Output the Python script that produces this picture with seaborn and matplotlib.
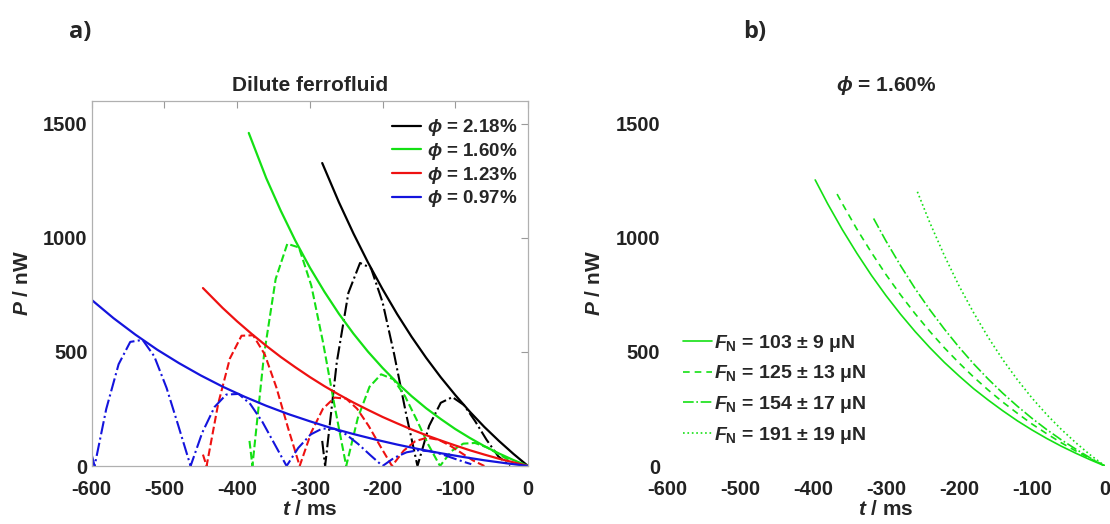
import matplotlib
matplotlib.use('Agg')
import matplotlib.pyplot as plt
import pandas as pd
import seaborn as sns

# %% Dados - painel a) fluido diluido
# envolventes (linhas cheias) e oscilacoes (tracejado)
t_env_k = [-283, -260, -240, -220, -200, -180, -160, -140, -120, -100, -80, -60, -40, -20, 0]
p_env_k = [1328, 1156, 1019, 892, 775, 666, 566, 474, 389, 311, 238, 171, 110, 53, 0]
t_osc_k = [-283, -279, -263, -247, -231, -216, -200, -184, -168, -152, -136, -120, -104, -88, -73, -57, -41, -25]
p_osc_k = [110, 0, 454, 759, 890, 868, 718, 489, 234, 0, 176, 277, 302, 267, 198, 115, 43, 0]

t_env_g = [-384, -360, -340, -320, -300, -280, -260, -240, -220, -200, -180, -160, -140, -120, -100, -80, -60, -40, -20, 0]
p_env_g = [1460, 1262, 1119, 988, 870, 764, 667, 580, 501, 430, 365, 306, 253, 206, 162, 123, 87, 55, 26, 0]
t_osc_g = [-383, -379, -363, -347, -331, -315, -298, -282, -266, -250, -234, -218, -202, -185, -169, -153, -137, -121, -105, -89, -73, -56, -40, -24]
p_osc_g = [110, 0, 488, 820, 974, 958, 791, 544, 264, 0, 211, 347, 402, 380, 305, 202, 93, 0, 66, 98, 101, 81, 51, 22]

t_env_r = [-447, -420, -400, -380, -360, -340, -320, -300, -280, -260, -240, -220, -200, -180, -160, -140, -120, -100, -80, -60, -40, -20, 0]
p_env_r = [780, 693, 634, 579, 527, 478, 433, 390, 350, 313, 278, 246, 215, 187, 160, 135, 112, 90, 69, 50, 32, 16, 0]
t_osc_r = [-447, -442, -426, -410, -394, -378, -362, -346, -330, -314, -298, -282, -266, -250, -235, -219, -203, -187, -171, -155, -139, -123, -108, -92, -76, -60]
p_osc_r = [50, 0, 274, 471, 571, 573, 489, 344, 167, 0, 148, 251, 300, 295, 251, 175, 86, 0, 67, 109, 124, 115, 91, 58, 25, 0]

t_env_b = [-600, -570, -540, -510, -480, -450, -420, -390, -360, -330, -300, -270, -240, -210, -180, -150, -120, -90, -60, -30, 0]
p_env_b = [728, 648, 576, 510, 451, 397, 348, 304, 264, 228, 196, 166, 140, 116, 94, 74, 56, 40, 25, 12, 0]
t_osc_b = [-600, -596, -580, -563, -547, -530, -514, -497, -481, -464, -448, -431, -415, -398, -382, -365, -349,
           -332, -316, -299, -283, -266, -250, -233, -217, -200, -184, -167, -151, -134, -118, -101, -85, -78]
p_osc_b = [50, 0, 250, 446, 544, 553, 481, 342, 178, 0, 146, 259, 313, 316, 272, 192, 99,
           0, 79, 138, 164, 163, 138, 95, 48, 0, 36, 60, 69, 64, 51, 32, 15, 8]

fracoes = ['2.18', '1.60', '1.23', '0.97']

# %% Dados - painel b) phi = 1.60%, varias forcas normais
t_fn103 = [-397, -380, -360, -340, -320, -300, -280, -260, -240, -220, -200, -180, -160, -140, -120, -100, -80, -60, -40, -20, 0]
p_fn103 = [1254, 1150, 1037, 933, 836, 747, 665, 589, 519, 454, 395, 339, 289, 242, 198, 158, 121, 87, 56, 27, 0]
t_fn125 = [-367, -360, -340, -320, -300, -280, -260, -240, -220, -200, -180, -160, -140, -120, -100, -80, -60, -40, -20, 0]
p_fn125 = [1192, 1151, 1039, 936, 839, 750, 667, 590, 518, 452, 390, 333, 280, 231, 184, 142, 102, 66, 32, 0]
t_fn154 = [-317, -300, -280, -260, -240, -220, -200, -180, -160, -140, -120, -100, -80, -60, -40, -20, 0]
p_fn154 = [1085, 986, 878, 777, 685, 600, 521, 448, 381, 319, 262, 209, 160, 115, 74, 35, 0]
t_fn191 = [-257, -240, -220, -200, -180, -160, -140, -120, -100, -80, -60, -40, -20, 0]
p_fn191 = [1202, 1067, 922, 790, 672, 564, 466, 378, 298, 226, 161, 102, 48, 0]

forcas = ['103 ± 9', '125 ± 13', '154 ± 17', '191 ± 19']

# %% Estilo
sns.set_style('white')
plt.rcParams['font.family'] = ['Liberation Sans', 'DejaVu Sans']
plt.rcParams['font.weight'] = 'bold'
plt.rcParams['axes.unicode_minus'] = False
plt.rcParams['mathtext.fontset'] = 'custom'
plt.rcParams['mathtext.it'] = 'Liberation Sans:italic:bold'
plt.rcParams['mathtext.rm'] = 'Liberation Sans:bold'
plt.rcParams['mathtext.bf'] = 'Liberation Sans:bold'

cores = {'k': '#000000', 'g': '#14e014', 'r': '#ee1111', 'b': '#1414dd'}
GRIS = '#9a9a9a'

fig = plt.figure(figsize=(11.1, 5.24), dpi=100)
ax1 = fig.add_axes([91.7 / 1110, 58 / 524, 436.3 / 1110, 365 / 524])
ax2 = fig.add_axes([667 / 1110, 58 / 524, 438 / 1110, 365 / 524])

# %% Painel a)
series_a = [
    ('k', t_env_k, p_env_k, t_osc_k, p_osc_k, '-.'),
    ('g', t_env_g, p_env_g, t_osc_g, p_osc_g, '--'),
    ('r', t_env_r, p_env_r, t_osc_r, p_osc_r, '--'),
    ('b', t_env_b, p_env_b, t_osc_b, p_osc_b, '-.'),
]
handles = []
for (c, te, pe, to, po, ls), f in zip(series_a, fracoes):
    sns.lineplot(data=pd.DataFrame({'t': to, 'P': po}), x='t', y='P', ax=ax1,
                 color=cores[c], linestyle=ls, linewidth=1.5, sort=False, estimator=None)
    sns.lineplot(data=pd.DataFrame({'t': te, 'P': pe}), x='t', y='P', ax=ax1,
                 color=cores[c], linewidth=1.6, sort=False, estimator=None)
    handles.append(ax1.lines[-1])

ax1.legend(handles, [r'$\phi$ = ' + f + '%' for f in fracoes], loc='upper right',
           bbox_to_anchor=(0.975, 0.955), frameon=False, fontsize=13.5, handlelength=1.55,
           handletextpad=0.3, labelspacing=0.14, borderpad=0, borderaxespad=0)

ax1.set_xlim(-600, 0)
ax1.set_ylim(0, 1600)
ax1.set_xticks([-600, -500, -400, -300, -200, -100, 0])
ax1.set_yticks([0, 500, 1000, 1500])
ax1.tick_params(direction='in', length=5, color=GRIS, top=True, right=True,
                labelsize=14.5, labelcolor='#222222')
ax1.tick_params(axis='x', pad=10)
ax1.tick_params(axis='y', pad=3)
for s in ax1.spines.values():
    s.set_color('#b0b0b0')
    s.set_linewidth(0.9)
ax1.set_title('Dilute ferrofluid', fontsize=15, fontweight='bold', pad=7)
ax1.set_xlabel(r'$t$ / ms', fontsize=15, fontweight='bold', labelpad=1)
ax1.set_ylabel(r'$P$ / nW', fontsize=15, fontweight='bold', labelpad=8)

# %% Painel b)
series_b = [(t_fn103, p_fn103, '-'), (t_fn125, p_fn125, (0, (4, 3))),
            (t_fn154, p_fn154, '-.'), (t_fn191, p_fn191, ':')]
for t, p, ls in series_b:
    sns.lineplot(data=pd.DataFrame({'t': t, 'P': p}), x='t', y='P', ax=ax2,
                 color=cores['g'], linestyle=ls, linewidth=1.2, sort=False, estimator=None)

ax2.legend(ax2.lines, [r'$F_\mathrm{N}$ = ' + f + ' μN' for f in forcas], loc='upper left',
           bbox_to_anchor=(0.037, 0.365), frameon=False, fontsize=14, handlelength=1.5,
           handletextpad=0.1, labelspacing=0.5, borderpad=0, borderaxespad=0)

ax2.set_xlim(-600, 0)
ax2.set_ylim(0, 1600)
ax2.set_xticks([-600, -500, -400, -300, -200, -100, 0])
ax2.set_yticks([0, 500, 1000, 1500])
ax2.set_xticks([-400, -300, -200], minor=True)
ax2.set_yticks([1500], minor=True)
ax2.tick_params(which='major', length=0, labelsize=14.5, labelcolor='#222222')
ax2.tick_params(axis='x', which='major', pad=10)
ax2.tick_params(axis='y', which='major', pad=5)
ax2.tick_params(which='minor', direction='in', length=4, color='#777777',
                top=True, bottom=True, left=True, right=True)
for s in ax2.spines.values():
    s.set_visible(False)
ax2.set_title(r'$\phi$ = 1.60%', fontsize=15, fontweight='bold', pad=7)
ax2.set_xlabel(r'$t$ / ms', fontsize=15, fontweight='bold', labelpad=1)
ax2.set_ylabel(r'$P$ / nW', fontsize=15, fontweight='bold', labelpad=8)

fig.text(80 / 1110, 1 - 32 / 524, 'a)', fontsize=17, fontweight='bold',
         family=['Open Sans', 'DejaVu Sans'], ha='center', va='center')
fig.text(755 / 1110, 1 - 32 / 524, 'b)', fontsize=17, fontweight='bold',
         family=['Open Sans', 'DejaVu Sans'], ha='center', va='center')

fig.savefig('out.png', dpi=100)
